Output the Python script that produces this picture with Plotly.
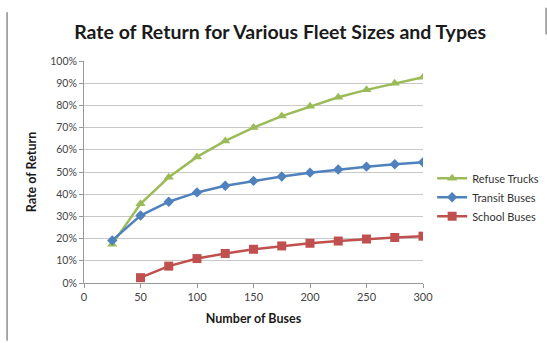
import plotly.graph_objects as go

buses = [25, 50, 75, 100, 125, 150, 175, 200, 225, 250, 275, 300]
refuse = [0.175, 0.357, 0.476, 0.568, 0.640, 0.700, 0.752, 0.796, 0.837, 0.870, 0.900, 0.927]
transit = [0.192, 0.304, 0.366, 0.408, 0.438, 0.460, 0.480, 0.497, 0.511, 0.524, 0.535, 0.544]
school_x = [50, 75, 100, 125, 150, 175, 200, 225, 250, 275, 300]
school = [0.024, 0.076, 0.110, 0.133, 0.152, 0.167, 0.179, 0.189, 0.198, 0.205, 0.211]

font = "Lato, 'Open Sans', sans-serif"

fig = go.Figure()
fig.add_trace(go.Scatter(x=buses, y=refuse, name="Refuse Trucks", mode="lines+markers",
                         line=dict(color="#9BBB59", width=2.5),
                         marker=dict(symbol="triangle-up", size=9, color="#9BBB59")))
fig.add_trace(go.Scatter(x=buses, y=transit, name="Transit Buses", mode="lines+markers",
                         line=dict(color="#4F81BD", width=2.5),
                         marker=dict(symbol="diamond", size=8, color="#4F81BD")))
fig.add_trace(go.Scatter(x=school_x, y=school, name="School Buses", mode="lines+markers",
                         line=dict(color="#C0504D", width=2.5),
                         marker=dict(symbol="square", size=9, color="#C0504D")))

fig.update_layout(
    width=547, height=343,
    margin=dict(l=84, r=124, t=61, b=60, autoexpand=False),
    paper_bgcolor="white", plot_bgcolor="white",
    title=dict(text="<b>Rate of Return for Various Fleet Sizes and Types</b>",
               x=0.512, xanchor="center", y=0.905, yanchor="middle",
               font=dict(family=font, size=19.5, color="#1a1a1a")),
    font=dict(family=font, color="#444"),
    showlegend=True,
    legend=dict(xref="container", yref="container", x=0.79, y=0.425,
                xanchor="left", yanchor="middle",
                font=dict(family=font, size=11, color="#333"),
                tracegroupgap=0, itemwidth=30, bgcolor="rgba(0,0,0,0)"),
    xaxis=dict(range=[0, 300], tickvals=[0, 50, 100, 150, 200, 250, 300],
               showgrid=False, zeroline=False, showline=True, linecolor="#999",
               linewidth=1, ticks="outside", ticklen=4, tickcolor="#999",
               tickfont=dict(family=font, size=11, color="#444"),
               title=dict(text="<b>Number of Buses</b>", standoff=12,
                          font=dict(family=font, size=12.5, color="#1a1a1a"))),
    yaxis=dict(range=[0, 1], tickvals=[i / 10 for i in range(11)], tickformat=".0%",
               showgrid=True, gridcolor="#c8c8c8", gridwidth=1, zeroline=False,
               showline=True, linecolor="#999", linewidth=1, ticks="outside",
               ticklen=4, tickcolor="#999",
               tickfont=dict(family=font, size=10.5, color="#444"),
               title=dict(text="<b>Rate of Return</b>", standoff=10,
                          font=dict(family=font, size=12.5, color="#1a1a1a"))),
    shapes=[
        dict(type="line", xref="paper", yref="paper", x0=-0.227, x1=-0.227, y0=-0.26, y1=1.22,
             line=dict(color="#555", width=1)),
        dict(type="line", xref="paper", yref="paper", x0=1.363, x1=1.363, y0=1.12, y1=1.24,
             line=dict(color="#555", width=1)),
    ],
)

fig.write_html("out.html")
